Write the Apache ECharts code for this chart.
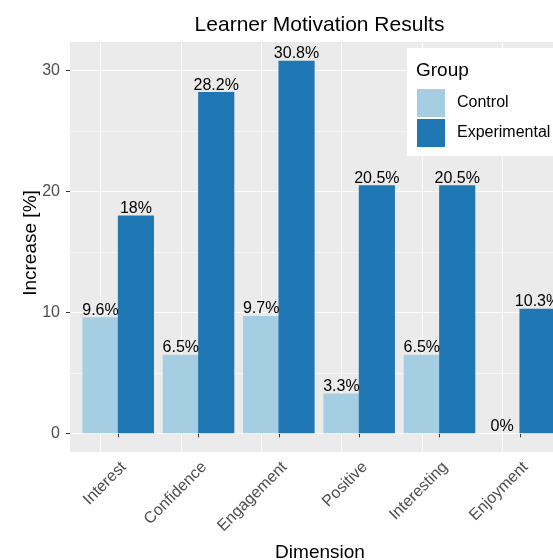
<!DOCTYPE html>
<html>
<head>
<meta charset="utf-8">
<script src="https://cdn.jsdelivr.net/npm/echarts@6/dist/echarts.min.js"></script>
<style>html,body{margin:0;padding:0;background:#fff;}#c{width:553px;height:560px;}</style>
</head>
<body>
<div id="c"></div>
<script>
const categories = ['Interest', 'Confidence', 'Engagement', 'Positive', 'Interesting', 'Enjoyment'];
const controlValues = [9.6, 6.5, 9.7, 3.3, 6.5, 0];
const experimentalValues = [18, 28.2, 30.8, 20.5, 20.5, 10.3];
const yTicks = [0, 10, 20, 30];
const yMinorTicks = [5, 15, 25];
const xTicks = [1, 2, 3, 4, 5, 6];

const FONT = 'Liberation Sans';
const chart = echarts.init(document.getElementById('c'), null, {renderer: 'canvas'});

const gridLines = [];
yTicks.forEach(v => gridLines.push({yAxis: v, lineStyle: {width: 1.1}}));
yMinorTicks.forEach(v => gridLines.push({yAxis: v, lineStyle: {width: 0.55}}));
xTicks.forEach(v => gridLines.push({xAxis: v, lineStyle: {width: 1.1}}));

const labelStyle = {
  show: true, position: 'top', distance: -1,
  color: '#000', fontSize: 16, fontFamily: FONT,
  formatter: p => p.value[1] + '%'
};

chart.setOption({
  animation: false,
  textStyle: {fontFamily: FONT},
  grid: {
    left: 70, width: 498, top: 42, height: 410,
    outerBoundsMode: 'none',
    show: true, backgroundColor: '#EBEBEB', borderWidth: 0, containLabel: false
  },
  xAxis: {
    type: 'value', min: 0.4, max: 6.6,
    axisLine: {show: false},
    splitLine: {show: false},
    axisTick: {show: true, customValues: xTicks, length: 4, lineStyle: {color: '#333333', width: 1}},
    axisLabel: {
      customValues: xTicks, rotate: 45, align: 'right', verticalAlign: 'top', margin: 7,
      color: '#4D4D4D', fontSize: 16, fontFamily: FONT,
      formatter: v => categories[Math.round(v) - 1]
    }
  },
  yAxis: {
    type: 'value', min: -1.54, max: 32.34,
    axisLine: {show: false},
    splitLine: {show: false},
    axisTick: {show: true, customValues: yTicks, length: 4, lineStyle: {color: '#333333', width: 1}},
    axisLabel: {customValues: yTicks, margin: 10, color: '#4D4D4D', fontSize: 16, fontFamily: FONT}
  },
  legend: {
    orient: 'vertical', left: 407, top: 48,
    padding: [41, 20, 9, 10],
    backgroundColor: '#fff',
    icon: 'rect', itemWidth: 28, itemHeight: 28, itemGap: 2,
    textStyle: {fontSize: 16, color: '#000', fontFamily: FONT, padding: [0, 0, 0, 7]},
    data: ['Control', 'Experimental'],
    selectedMode: false
  },
  graphic: [
    {type: 'text', z: 100, left: 416, top: 61, style: {text: 'Group', fontSize: 19, fontFamily: FONT, fill: '#000'}},
    {type: 'text', z: 100, x: 319.5, y: 25.5, style: {text: 'Learner Motivation Results', fontSize: 21, fontFamily: FONT, fill: '#000', align: 'center', verticalAlign: 'middle'}},
    {type: 'text', z: 100, x: 320, y: 553, style: {text: 'Dimension', fontSize: 19, fontFamily: FONT, fill: '#000', align: 'center', verticalAlign: 'middle'}},
    {type: 'text', z: 100, x: 31, y: 243, rotation: Math.PI / 2, style: {text: 'Increase [%]', fontSize: 19, fontFamily: FONT, fill: '#000', align: 'center', verticalAlign: 'middle'}}
  ],
  series: [
    {
      name: 'Control', type: 'bar', z: 2,
      data: controlValues.map((v, i) => [xTicks[i], v]),
      barWidth: '45%', barGap: '-2%',
      itemStyle: {color: '#A6CEE3'},
      label: labelStyle,
      emphasis: {disabled: true},
      markLine: {
        silent: true, z: 1, symbol: ['none', 'none'], label: {show: false},
        lineStyle: {color: '#FFFFFF', type: 'solid'},
        emphasis: {disabled: true},
        data: gridLines
      }
    },
    {
      name: 'Experimental', type: 'bar', z: 2,
      data: experimentalValues.map((v, i) => [xTicks[i], v]),
      barWidth: '45%', barGap: '-2%',
      itemStyle: {color: '#1F78B4'},
      label: labelStyle,
      emphasis: {disabled: true}
    }
  ]
});
</script>
</body>
</html>
